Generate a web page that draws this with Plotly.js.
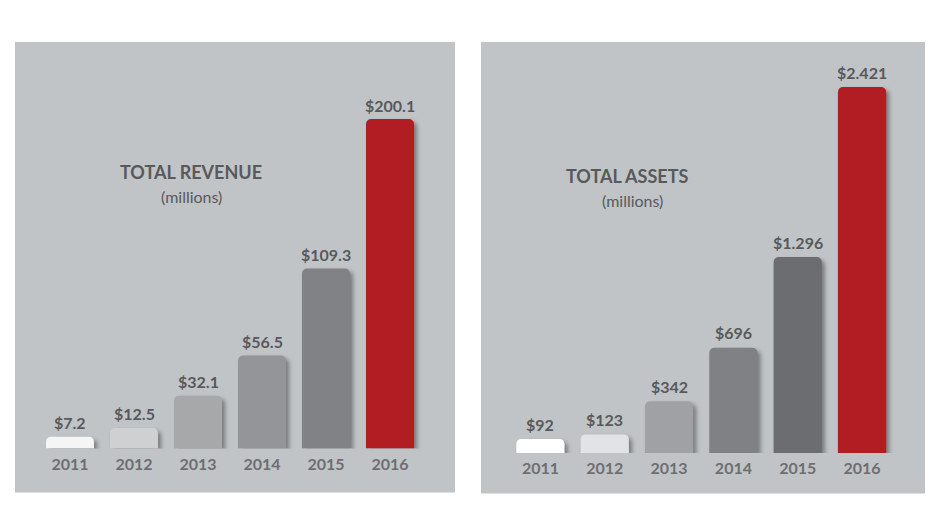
<!DOCTYPE html>
<html>
<head>
<meta charset="utf-8">
<script src="https://cdn.plot.ly/plotly-3.0.1.min.js"></script>
<style>
  html, body { margin: 0; padding: 0; background: #ffffff; }
  #chart { width: 945px; height: 511px; }
  .js-plotly-plot .plotly .barlayer .point path {
    filter: drop-shadow(3px 3px 2px rgba(0,0,0,0.38));
  }
</style>
</head>
<body>
<div id="chart"></div>
<script>
// ---- data ----
const years = ["2011", "2012", "2013", "2014", "2015", "2016"];
const revenue = [7.2, 12.5, 32.1, 56.5, 109.3, 200.1];
const revenueLabels = ["$7.2", "$12.5", "$32.1", "$56.5", "$109.3", "$200.1"];
const assets = [92, 123, 342, 696, 1296, 2421];
const assetsLabels = ["$92", "$123", "$342", "$696", "$1.296", "$2.421"];
const revenueColors = ["#f5f5f5", "#cfd0d2", "#a6a8aa", "#939598", "#818286", "#b21d23"];
const assetsColors = ["#ffffff", "#e2e3e5", "#a0a1a4", "#808184", "#6c6d70", "#b21d23"];

const W = 945, H = 511;
const textColor = "#58595b";
const fontFam = "Lato, 'Open Sans', sans-serif";

const traces = [
  {
    type: "bar", x: years, y: revenue, xaxis: "x", yaxis: "y",
    marker: { color: revenueColors, cornerradius: 5, line: { width: 0 } },
    hoverinfo: "skip", showlegend: false
  },
  {
    type: "bar", x: years, y: assets, xaxis: "x2", yaxis: "y2",
    marker: { color: assetsColors, cornerradius: 5, line: { width: 0 } },
    hoverinfo: "skip", showlegend: false
  }
];

const annotations = [];
years.forEach((yr, i) => {
  annotations.push({
    xref: "x", yref: "y", x: i, y: revenue[i], text: revenueLabels[i],
    showarrow: false, yanchor: "middle", yshift: 14,
    font: { family: fontFam, size: 16, color: textColor, weight: 700 }
  });
  annotations.push({
    xref: "x2", yref: "y2", x: i, y: assets[i], text: assetsLabels[i],
    showarrow: false, yanchor: "middle", yshift: 15,
    font: { family: fontFam, size: 16, color: textColor, weight: 700 }
  });
});
// titles
annotations.push(
  { xref: "paper", yref: "paper", x: 191 / W, y: 1 - 171.5 / H, text: "TOTAL REVENUE",
    showarrow: false, xanchor: "center", yanchor: "middle",
    font: { family: fontFam, size: 18, color: textColor, weight: 700 } },
  { xref: "paper", yref: "paper", x: 191 / W, y: 1 - 196 / H, text: "(millions)",
    showarrow: false, xanchor: "center", yanchor: "middle",
    font: { family: fontFam, size: 16, color: textColor } },
  { xref: "paper", yref: "paper", x: 627 / W, y: 1 - 176.5 / H, text: "TOTAL ASSETS",
    showarrow: false, xanchor: "center", yanchor: "middle",
    font: { family: fontFam, size: 18, color: textColor, weight: 700 } },
  { xref: "paper", yref: "paper", x: 632 / W, y: 1 - 201 / H, text: "(millions)",
    showarrow: false, xanchor: "center", yanchor: "middle",
    font: { family: fontFam, size: 16, color: textColor } }
);

const shapes = [
  { type: "rect", xref: "paper", yref: "paper", layer: "below",
    x0: 15 / W, x1: 455 / W, y0: 1 - 492.5 / H, y1: 1 - 42 / H,
    fillcolor: "#c1c4c7", line: { width: 0 } },
  { type: "rect", xref: "paper", yref: "paper", layer: "below",
    x0: 481 / W, x1: 925 / W, y0: 1 - 493.5 / H, y1: 1 - 42 / H,
    fillcolor: "#c1c4c7", line: { width: 0 } }
];

const tickFont = { family: fontFam, size: 16, color: "#6d6e71", weight: 700 };

const layout = {
  width: W, height: H,
  margin: { l: 0, r: 0, t: 0, b: 0 },
  paper_bgcolor: "#ffffff",
  plot_bgcolor: "rgba(0,0,0,0)",
  bargap: 0.25,
  xaxis: {
    domain: [38 / W, 422 / W], type: "category", range: [-0.5, 5.5], autorange: false,
    showgrid: false, zeroline: false, showline: false, ticks: "", ticklabelstandoff: 4,
    tickfont: tickFont, fixedrange: true
  },
  yaxis: {
    domain: [1 - 448.5 / H, 1 - 42 / H], range: [0, 246.9], autorange: false, visible: false,
    showgrid: false, zeroline: false, fixedrange: true
  },
  xaxis2: {
    domain: [508.3 / W, 894.2 / W], type: "category", range: [-0.5, 5.5], autorange: false,
    showgrid: false, zeroline: false, showline: false, ticks: "", ticklabelstandoff: 4,
    tickfont: tickFont, anchor: "y2", fixedrange: true
  },
  yaxis2: {
    domain: [1 - 453 / H, 1 - 42 / H], range: [0, 2718.7], autorange: false, visible: false,
    showgrid: false, zeroline: false, anchor: "x2", fixedrange: true
  },
  shapes: shapes,
  annotations: annotations
};

Plotly.newPlot("chart", traces, layout, { displayModeBar: false, staticPlot: true });
</script>
</body>
</html>
